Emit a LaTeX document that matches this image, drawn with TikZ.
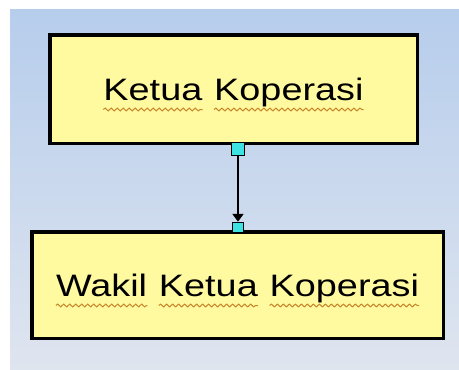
\documentclass[tikz,border=0pt]{standalone}
\usepackage{fontspec}
\usepackage{xcolor}
\usetikzlibrary{arrows.meta,positioning,calc,decorations.pathmorphing}
\newfontfamily\boxfont{Liberation Sans}[FakeStretch=1.22]
\definecolor{boxfill}{HTML}{FFFAA0}
\definecolor{grip}{HTML}{3DE3E3}
\definecolor{bgtop}{HTML}{B6CDEC}
\definecolor{bgbottom}{HTML}{DFE5EF}
\definecolor{wavecol}{HTML}{C8862A}
% spell-check style wavy underline
\newcommand\spellwave[1]{\tikz[baseline=0pt,x=1pt,y=1pt]{%
  \node[inner sep=0pt, minimum width=0pt, minimum height=0pt, text height=, text depth=,
    draw=none, fill=none, anchor=base west] (wordbox) at (0,0) {#1};
  \draw[wavecol, line width=1pt, decorate, decoration={snake, amplitude=1.4pt, segment length=6pt}]
    (0,-9.5) -- (wordbox.base east |- 0,-9.5);}}

\begin{document}
\begin{tikzpicture}[x=1pt,y=-1pt,
  unitbox/.style={draw, line width=3.5pt, fill=boxfill, inner sep=0pt,
    font=\boxfont\fontsize{31}{36}\selectfont, text height=22pt, text depth=0pt},
  gripbox/.style={draw, line width=1pt, fill=grip, inner sep=0pt}]
  \useasboundingbox (0,0) rectangle (459,370);
  % background
  \shade[top color=bgtop, bottom color=bgbottom] (10,9) rectangle (459,370);

  % units
  \node[unitbox, minimum width=367.5pt, minimum height=108.5pt] (ketua) at (233.5,89)
    {\spellwave{Ketua} \spellwave{Koperasi}};
  \node[unitbox, minimum width=411.5pt, minimum height=106.5pt] (wakil) at (237.5,285)
    {\spellwave{Wakil} \spellwave{Ketua} \spellwave{Koperasi}};

  % connection points
  \coordinate (ketua-out) at ($(ketua.south)+(4.5,0)$);
  \coordinate (wakil-in) at ($(wakil.north)+(0.5,0)$);
  \node[gripbox, minimum size=13pt, yshift=-4pt] (gripA) at (ketua-out) {};
  \node[gripbox, minimum size=10.5pt, yshift=2.5pt] (gripB) at (wakil-in) {};

  \draw[line width=2.8pt, -{Triangle[length=8pt,width=11pt]}] (gripA.south) -- (gripB.north);
\end{tikzpicture}
\end{document}
